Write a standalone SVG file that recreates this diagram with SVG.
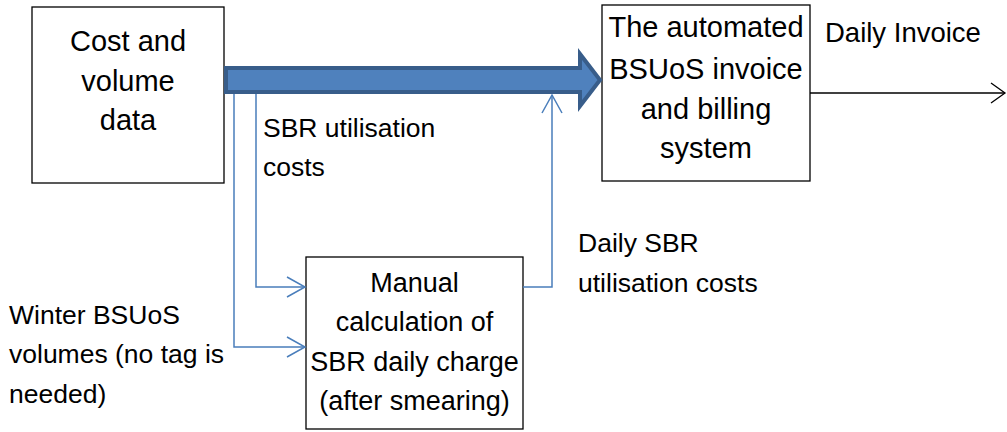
<svg xmlns="http://www.w3.org/2000/svg" width="1007" height="432" viewBox="0 0 1007 432">
<defs>
<style>
.box{fill:#fff;stroke:#000;stroke-width:1.3}
.bt{font-family:"Liberation Sans",Arial,sans-serif;font-size:29px;fill:#000;text-anchor:middle}
.bm{font-size:27px}
.lt{font-family:"Liberation Sans",Arial,sans-serif;font-size:26.5px;fill:#000}
.blue{fill:none;stroke:#4A7EBB;stroke-width:1.5}
.blk{fill:none;stroke:#000;stroke-width:1.3}
</style>
<marker id="ob" markerUnits="userSpaceOnUse" markerWidth="24" markerHeight="24" viewBox="-20 -12 24 24" refX="0" refY="0" orient="auto">
<path d="M-18,-10 L0,0 L-18,10" fill="none" stroke="#4A7EBB" stroke-width="1.5"/>
</marker>
<marker id="ok" markerUnits="userSpaceOnUse" markerWidth="24" markerHeight="24" viewBox="-20 -12 24 24" refX="0" refY="0" orient="auto">
<path d="M-14,-10 L0,0 L-14,10" fill="none" stroke="#000" stroke-width="1.3"/>
</marker>
</defs>
<rect width="1007" height="432" fill="#fff"/>
<g id="node-cost">
<rect class="box" x="32" y="7" width="192" height="176"/>
<text class="bt" x="128" y="51">Cost and</text>
<text class="bt" x="128" y="91">volume</text>
<text class="bt" x="128" y="130">data</text>
</g>
<g id="node-automated">
<rect class="box" x="602" y="5" width="208" height="176"/>
<text class="bt" x="706" y="37">The automated</text>
<text class="bt" x="706" y="79">BSUoS invoice</text>
<text class="bt" x="706" y="119">and billing</text>
<text class="bt" x="706" y="158">system</text>
</g>
<g id="node-manual">
<rect class="box" x="306" y="257" width="217" height="172"/>
<text class="bt bm" x="414.5" y="292">Manual</text>
<text class="bt bm" x="414.5" y="331">calculation of</text>
<text class="bt bm" x="414.5" y="371">SBR daily charge</text>
<text class="bt bm" x="414.5" y="410">(after smearing)</text>
</g>
<g id="connectors">
<polygon points="226,68 580,68 580,54 600,80 580,106 580,92 226,92" fill="#4F81BD" stroke="#385D8A" stroke-width="4"/>
<path class="blue" d="M256,94 V287 H305" marker-end="url(#ob)"/>
<path class="blue" d="M234,94 V347 H305" marker-end="url(#ob)"/>
<path class="blue" d="M523,287 H552 V95" marker-end="url(#ob)"/>
<path class="blk" d="M810,93 H1005" marker-end="url(#ok)"/>
</g>
<g id="labels">
<text class="lt" x="825" y="42" style="font-size:27.5px">Daily Invoice</text>
<text class="lt" x="263" y="137">SBR utilisation</text>
<text class="lt" x="263" y="176">costs</text>
<text class="lt" x="578" y="252">Daily SBR</text>
<text class="lt" x="578" y="292">utilisation costs</text>
<text class="lt" x="9" y="324">Winter BSUoS</text>
<text class="lt" x="9" y="363">volumes (no tag is</text>
<text class="lt" x="9" y="403">needed)</text>
</g>
</svg>
